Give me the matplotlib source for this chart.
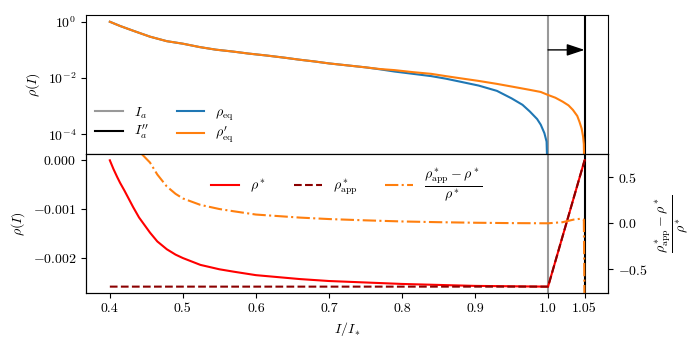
import matplotlib

matplotlib.use("Agg")
import matplotlib.pyplot as plt
from matplotlib.ticker import NullLocator

plt.rcParams["font.family"] = "serif"
plt.rcParams["font.serif"] = ["cmr10", "DejaVu Serif"]
plt.rcParams["mathtext.fontset"] = "cm"
plt.rcParams["axes.formatter.use_mathtext"] = True

# top panel: equilibrium densities (log scale)
x_eq = [0.40, 0.414, 0.432, 0.455, 0.478, 0.50, 0.523, 0.545, 0.569, 0.59, 0.615,
        0.64, 0.66, 0.68, 0.70, 0.725, 0.75, 0.77, 0.79, 0.815, 0.84, 0.86, 0.88,
        0.905, 0.93, 0.95, 0.965, 0.975, 0.985, 0.99, 0.995, 0.998, 1.0]
rho_eq = [1.0, 0.708, 0.479, 0.295, 0.204, 0.166, 0.126, 0.102, 0.087, 0.074, 0.063,
          0.0525, 0.0447, 0.0389, 0.0331, 0.0282, 0.0240, 0.0204, 0.0170, 0.0141,
          0.0117, 0.0095, 0.0074, 0.0054, 0.0035, 0.0019, 0.00112, 6.5e-4, 3.5e-4,
          2.2e-4, 1.1e-4, 5.5e-5, 1e-6]

x_eq2 = [0.40, 0.414, 0.432, 0.455, 0.478, 0.50, 0.523, 0.545, 0.569, 0.59, 0.615,
         0.64, 0.66, 0.68, 0.70, 0.725, 0.75, 0.77, 0.79, 0.815, 0.84, 0.86, 0.88,
         0.905, 0.93, 0.95, 0.975, 0.99, 1.0, 1.01, 1.02, 1.028, 1.034, 1.04, 1.043,
         1.046, 1.048, 1.049, 1.05]
rho_eq2 = [1.0, 0.708, 0.479, 0.295, 0.204, 0.166, 0.126, 0.102, 0.087, 0.074, 0.063,
           0.0525, 0.0447, 0.0389, 0.0331, 0.0282, 0.0240, 0.0209, 0.0191, 0.0162,
           0.0141, 0.0117, 0.0098, 0.0079, 0.0062, 0.0050, 0.0038, 0.0032, 0.0025,
           0.0020, 0.00145, 0.00107, 7.4e-4, 4.5e-4, 2.8e-4, 1.6e-4, 8.3e-5, 4.5e-5,
           1e-6]

I_a = 1.0
I_a2 = 1.05

# bottom panel
x_star = [0.40, 0.405, 0.41, 0.414, 0.42, 0.426, 0.432, 0.44, 0.455, 0.465, 0.478,
          0.49, 0.50, 0.524, 0.55, 0.57, 0.60, 0.66, 0.70, 0.80, 0.90, 1.0, 1.05]
rho_star = [0.0, -0.00018, -0.00034, -0.00046, -0.00062, -0.00079, -0.00096, -0.00117,
            -0.00148, -0.00166, -0.00182, -0.00193, -0.00200, -0.00214, -0.00223,
            -0.00228, -0.00235, -0.00243, -0.00247, -0.00253, -0.00257, -0.002585, 0.0]

x_app = [0.40, 1.0, 1.05]
rho_app = [-0.002585, -0.002585, 0.0]

x_rel = [0.444, 0.455, 0.465, 0.478, 0.49, 0.50, 0.524, 0.55, 0.57, 0.60, 0.66, 0.70,
         0.75, 0.80, 0.85, 0.90, 0.95, 1.0, 1.02, 1.035, 1.045, 1.049, 1.05]
rel_err = [0.75, 0.66, 0.53, 0.40, 0.32, 0.27, 0.20, 0.155, 0.13, 0.095, 0.062, 0.046,
           0.032, 0.02, 0.012, 0.006, 0.002, 0.0, 0.012, 0.04, 0.05, 0.04, -1.0]

fig, (ax1, ax2) = plt.subplots(2, 1, sharex=True, figsize=(7, 3.5), dpi=100)
fig.subplots_adjust(left=0.123, right=0.869, top=0.957, bottom=0.163, hspace=0)

l_ia = ax1.axvline(I_a, color="#999999", lw=1.5, label=r"$I_a$")
l_ia2 = ax1.axvline(I_a2, color="black", lw=1.5, label=r"$I_a^{\prime\prime}$")
l_eq, = ax1.plot(x_eq, rho_eq, color="tab:blue", lw=1.5, label=r"$\rho_{\rm eq}$")
l_eq2, = ax1.plot(x_eq2, rho_eq2, color="tab:orange", lw=1.5,
                  label=r"$\rho_{\rm eq}^{\prime}$")
ax1.annotate("", xy=(I_a2, 0.1), xytext=(I_a, 0.1),
             arrowprops=dict(arrowstyle="-|>,head_length=0.9,head_width=0.3",
                             color="black", lw=1, mutation_scale=12,
                             shrinkA=0, shrinkB=0))
ax1.set_yscale("log")
ax1.set_ylim(2.0e-5, 1.73)
ax1.set_yticks([1e-4, 1e-2, 1e0])
ax1.yaxis.set_minor_locator(NullLocator())
ax1.set_ylabel(r"$\rho(I)$")
ax1.legend(handles=[l_ia, l_ia2, l_eq, l_eq2], ncol=2, loc="lower left", frameon=False,
           labelspacing=0.15, borderaxespad=0.25)

ax2.axvline(I_a, color="#999999", lw=1.5)
ax2.axvline(I_a2, color="black", lw=1.5)
h1, = ax2.plot(x_star, rho_star, color="red", lw=1.5, label=r"$\rho^*$")
h2, = ax2.plot(x_app, rho_app, color="darkred", ls="--", lw=1.5, label=r"$\rho^*_{\rm app}$")
ax2.set_ylabel(r"$\rho(I)$")
ax2.set_xlabel(r"$I/I_*$")
ax2.set_xticks([0.4, 0.5, 0.6, 0.7, 0.8, 0.9, 1.0, 1.05])
ax2.set_xticklabels(["0.4", "0.5", "0.6", "0.7", "0.8", "0.9", "1.0", "1.05"])
ax2.set_yticks([-0.002, -0.001, 0.0])
ax2.set_yticklabels([r"$-0.002$", r"$-0.001$", r"$0.000$"])

ax3 = ax2.twinx()
frac = r"$\dfrac{\rho^*_{\rm app} - \rho^*}{\rho^*}$"
h3, = ax3.plot(x_rel, rel_err, color="tab:orange", ls="-.", lw=1.5, label=frac)
ax3.set_ylim(-0.757, 0.753)
ax3.set_yticks([-0.5, 0.0, 0.5])
ax3.set_yticklabels([r"$-0.5$", r"$0.0$", r"$0.5$"])
ax3.set_ylabel(frac)
ax3.legend(handles=[h1, h2, h3], ncol=3, loc="upper center", frameon=False)

ax2.set_xlim(0.3675, 1.0825)

plt.savefig("out.png")
